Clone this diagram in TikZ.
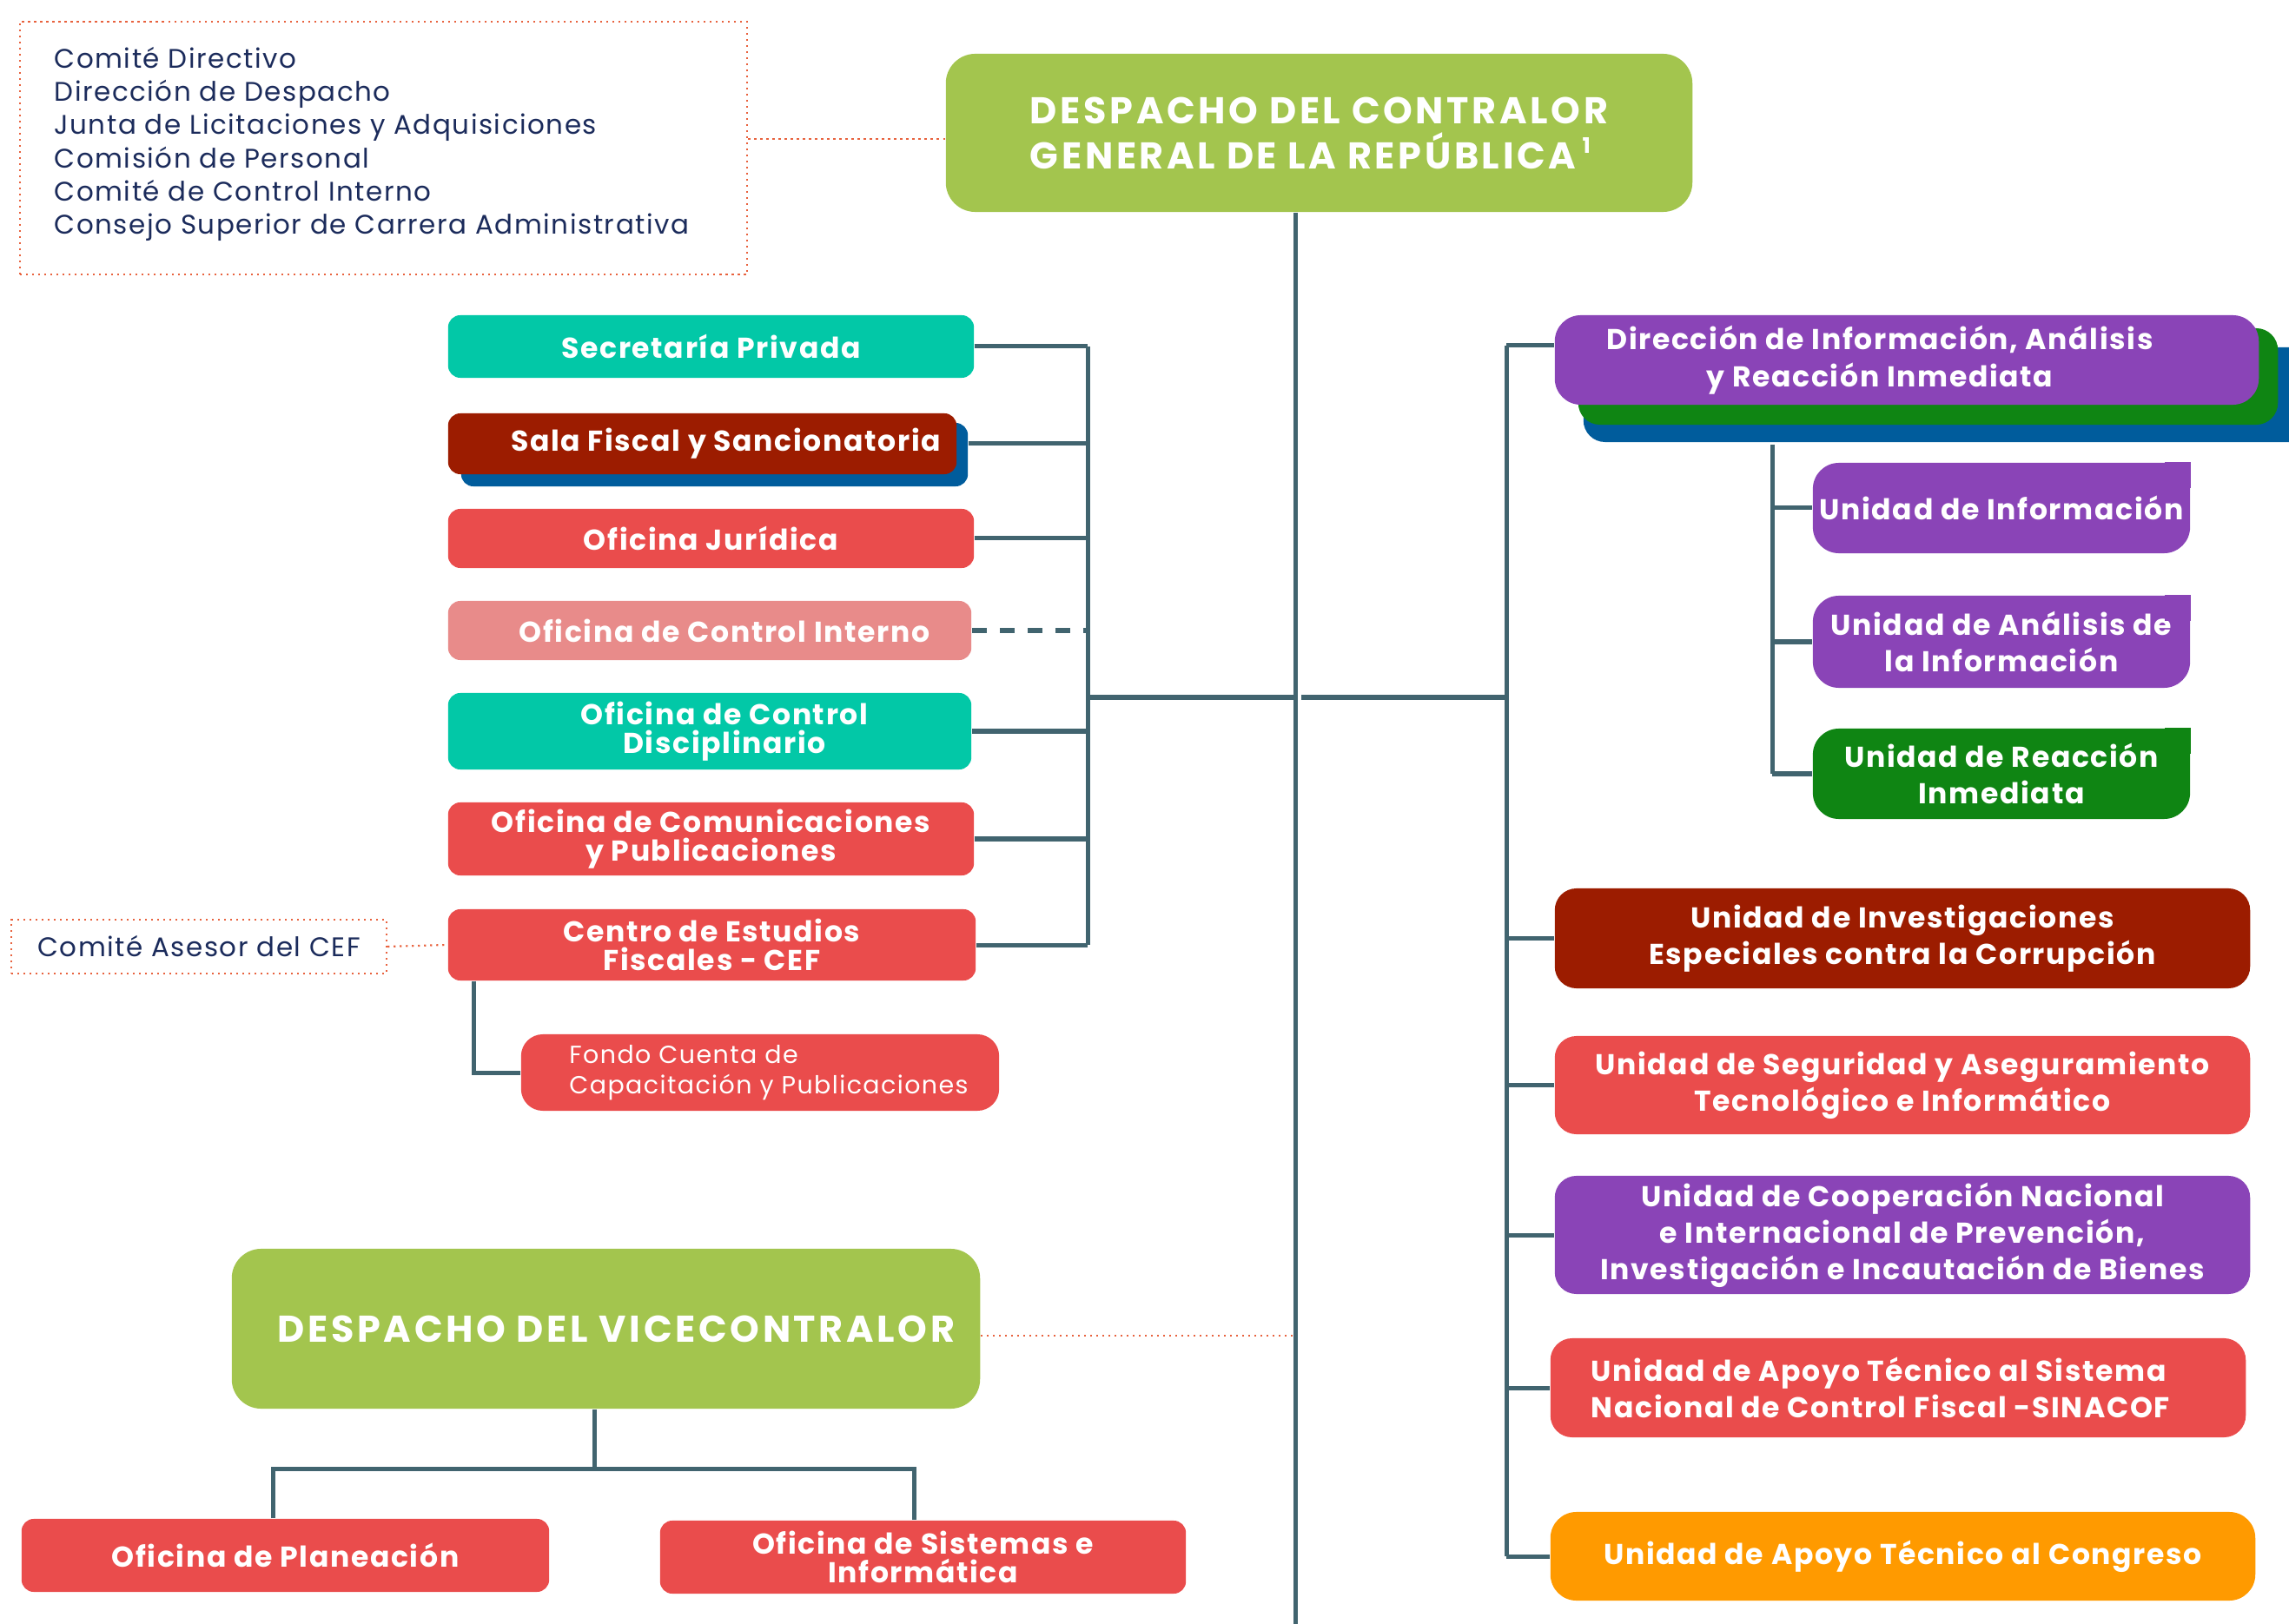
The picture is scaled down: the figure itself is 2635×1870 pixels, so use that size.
\documentclass[tikz,border=0pt]{standalone}
\usepackage{fontspec}
\setmainfont{Poppins}[LetterSpace=5]
\newfontfamily\titlefam{Poppins}[LetterSpace=8.5]
\definecolor{cLime}{HTML}{A3C54E}
\definecolor{cTeal}{HTML}{02C8A7}
\definecolor{cDRed}{HTML}{9C1C00}
\definecolor{cRed}{HTML}{EA4C4C}
\definecolor{cPink}{HTML}{E88B8A}
\definecolor{cPurp}{HTML}{8A44B7}
\definecolor{cDGreen}{HTML}{0F8513}
\definecolor{cBlue}{HTML}{005C9C}
\definecolor{cOrange}{HTML}{FF9A00}
\definecolor{cLine}{HTML}{41646F}
\definecolor{cDot}{HTML}{E8623E}
\definecolor{cNavy}{HTML}{1B2B5B}
\newcommand{\titlefnt}{\titlefam\fontsize{12.2}{14.8}\selectfont\bfseries}
\newcommand{\boxfnt}{\fontsize{9.4}{9.4}\selectfont\bfseries}
\newcommand{\rboxfnt}{\fontsize{9.4}{12}\selectfont\bfseries}
\newcommand{\listfnt}{\fontsize{8.8}{10.9}\selectfont}
\newcommand{\fondofnt}{\fontsize{8.1}{9.8}\selectfont}
\begin{document}
\begin{tikzpicture}[x=0.01cm, y=-0.01cm,
  box/.style={rectangle, rounded corners=0.14cm, inner sep=0pt, text=white, font=\boxfnt, align=center},
  rbox/.style={box, rounded corners=0.25cm, font=\rboxfnt},
  conn/.style={draw=cLine, line width=0.05cm},
  dashconn/.style={draw=cLine, line width=0.05cm, dash pattern=on 0.17cm off 0.15cm},
  dots/.style={draw=cDot, line width=0.022cm, dash pattern=on 0.022cm off 0.048cm},
  dotbox/.style={rectangle, dots, inner sep=0pt},
]
\useasboundingbox (0,0) rectangle (2635,1870);
\clip (0,0) rectangle (2635,1870);

% ---------- top ----------
\node[box, fill=cLime, rounded corners=0.34cm, minimum width=8.59cm, minimum height=1.82cm, font=\titlefnt, align=left] (top) at (1518.5,153)
  {DESPACHO DEL CONTRALOR\\GENERAL DE LA REPÚBLICA\,\raisebox{.75ex}{\fontsize{7}{7}\selectfont 1}};

\node[dotbox, minimum width=8.37cm, minimum height=2.91cm] (board) at (441.5,170.5) {};
\node[anchor=west, text=cNavy, font=\listfnt, align=left, inner sep=0pt] (boardtxt) at (62,166)
  {Comité Directivo\\Dirección de Despacho\\Junta de Licitaciones y Adquisiciones\\Comisión de Personal\\Comité de Control Interno\\Consejo Superior de Carrera Administrativa};

% ---------- left column ----------
\node[box, fill=cTeal, minimum width=6.05cm, minimum height=0.72cm] (sec) at (818.5,399) {Secretaría Privada};
\node[box, fill=cBlue, minimum width=5.83cm, minimum height=0.73cm] (salaB) at (822.5,523.5) {};
\node[box, fill=cDRed, minimum width=5.85cm, minimum height=0.70cm] (sala) at (808.5,511) {\hspace*{0.54cm}Sala Fiscal y Sancionatoria};
\node[box, fill=cRed, minimum width=6.05cm, minimum height=0.68cm] (jur) at (818.5,620) {Oficina Jurídica};
\node[box, fill=cPink, minimum width=6.02cm, minimum height=0.68cm] (oci) at (817,726) {\hspace*{0.34cm}Oficina de Control Interno};
\node[box, fill=cTeal, minimum width=6.02cm, minimum height=0.88cm] (ocd) at (817,842) {\hspace*{0.34cm}Oficina de Control\\\hspace*{0.34cm}Disciplinario};
\node[box, fill=cRed, minimum width=6.05cm, minimum height=0.84cm] (com) at (818.5,966) {Oficina de Comunicaciones\\y Publicaciones};
\node[box, fill=cRed, minimum width=6.07cm, minimum height=0.82cm] (cef) at (819.5,1088) {Centro de Estudios\\Fiscales - CEF};
\node[box, fill=cRed, rounded corners=0.25cm, minimum width=5.50cm, minimum height=0.88cm, font=\fondofnt, align=left] (fondo) at (875,1235)
  {\hspace*{0.2cm}Fondo Cuenta de\\\hspace*{0.2cm}Capacitación y Publicaciones};
\node[dotbox, minimum width=4.32cm, minimum height=0.62cm, text=cNavy, font=\listfnt] (asesor) at (229,1090) {Comité Asesor del CEF};

% ---------- vicecontralor ----------
\node[box, fill=cLime, rounded corners=0.34cm, minimum width=8.61cm, minimum height=1.84cm, font=\titlefnt] (vice) at (697.5,1530)
  {\hspace*{0.24cm}DESPACHO DEL VICECONTRALOR};
\node[box, fill=cRed, minimum width=6.07cm, minimum height=0.84cm] (plan) at (328.5,1791) {Oficina de Planeación};
\node[box, fill=cRed, minimum width=6.05cm, minimum height=0.84cm] (sist) at (1062.5,1793) {Oficina de Sistemas e\\Informática};

% ---------- right column ----------
\node[rbox, fill=cBlue, minimum width=8.57cm, minimum height=1.09cm] (dirB) at (2251.5,454.5) {};
\node[rbox, fill=cDGreen, minimum width=8.05cm, minimum height=1.11cm] (dirG) at (2219.5,433.5) {};
\node[rbox, fill=cPurp, rounded corners=0.3cm, minimum width=8.10cm, minimum height=1.03cm] (dir) at (2195,414.5)
  {Dirección de Información, Análisis\hspace*{0.62cm}\\y Reacción Inmediata\hspace*{0.62cm}};
\node[rbox, fill=cPurp, rounded corners=0.3cm, minimum width=4.34cm, minimum height=1.04cm] (uinf) at (2304,585) {Unidad de Información};
\node[rbox, fill=cPurp, rounded corners=0.3cm, minimum width=4.34cm, minimum height=1.06cm] (uana) at (2304,739) {Unidad de Análisis de\\la Información};
\node[rbox, fill=cDGreen, rounded corners=0.3cm, minimum width=4.34cm, minimum height=1.04cm] (urea) at (2304,891) {Unidad de Reacción\\Inmediata};
\fill[cPurp] (uinf.north east) rectangle ++(-30,30);
\fill[cPurp] (uana.north east) rectangle ++(-30,30);
\fill[cDGreen] (urea.north east) rectangle ++(-30,30);

\node[rbox, fill=cDRed, minimum width=8.00cm, minimum height=1.15cm] (inv) at (2190,1080.5) {Unidad de Investigaciones\\Especiales contra la Corrupción};
\node[rbox, fill=cRed, minimum width=8.00cm, minimum height=1.13cm] (seg) at (2190,1249.5) {Unidad de Seguridad y Aseguramiento\\Tecnológico e Informático};
\node[rbox, fill=cPurp, minimum width=8.00cm, minimum height=1.36cm] (coop) at (2190,1422) {Unidad de Cooperación Nacional\\e Internacional de Prevención,\\Investigación e Incautación de Bienes};
\node[rbox, fill=cRed, minimum width=8.00cm, minimum height=1.14cm, align=left] (sina) at (2185,1598) {Unidad de Apoyo Técnico al Sistema\hspace*{0.4cm}\\Nacional de Control Fiscal -SINACOF\hspace*{0.4cm}};
\node[rbox, fill=cOrange, rounded corners=0.3cm, minimum width=8.11cm, minimum height=1.02cm] (cong) at (2190.5,1792) {Unidad de Apoyo Técnico al Congreso};

% ---------- coordinates ----------
\coordinate (tb) at (1491,1870);
\coordinate (brk) at (1252,803);
\coordinate (rj) at (1498,803);
\coordinate (rv) at (1734,803);
\coordinate (rtop) at (1734,398);
\coordinate (sv) at (2040,512);
\coordinate (fl) at (545,1235);
\coordinate (vj) at (684,1691);
\coordinate (c1) at (314,1691);
\coordinate (c2) at (1052,1691);
\coordinate (dl) at (0,160);
\coordinate (vl) at (0,1538);

% ---------- connectors ----------
\draw[conn] (top.south -| tb) -- (tb);
\draw[conn] (sec.east) -- (sec.east -| brk);
\draw[conn] (sala.east -| salaB.east) -- (sala.east -| brk);
\draw[conn] (jur.east) -- (jur.east -| brk);
\draw[dashconn] (oci.east) -- (oci.east -| brk);
\draw[conn] (ocd.east) -- (ocd.east -| brk);
\draw[conn] (com.east) -- (com.east -| brk);
\draw[conn] (cef.east) -- (cef.east -| brk);
\draw[conn] (sec.east -| brk) -- (cef.east -| brk);
\draw[conn] (brk) -- (brk -| tb);
\draw[conn] (rj) -- (rv);
\draw[conn] (rtop) -- (cong.west -| rv);
\draw[conn] (rtop) -- (dir.west |- rtop);
\draw[conn] (inv.west -| rv) -- (inv.west);
\draw[conn] (seg.west -| rv) -- (seg.west);
\draw[conn] (coop.west -| rv) -- (coop.west);
\draw[conn] (sina.west -| rv) -- (sina.west);
\draw[conn] (cong.west -| rv) -- (cong.west);
\draw[conn] (sv) -- (urea.west -| sv);
\draw[conn] (uinf.west -| sv) -- (uinf.west);
\draw[conn] (uana.west -| sv) -- (uana.west);
\draw[conn] (urea.west -| sv) -- (urea.west);
\draw[conn] (cef.south -| fl) |- (fondo.west);
\draw[conn] (vice.south -| vj) -- (vj);
\draw[conn] (plan.north -| c1) -- (c1) -- (c2) -- (sist.north -| c2);
\draw[dots] (board.east |- dl) -- (top.west |- dl);
\draw[dots] (asesor.east) -- (cef.west);
\draw[dots] (vice.east |- vl) -- (tb |- vl);
\end{tikzpicture}
\end{document}
